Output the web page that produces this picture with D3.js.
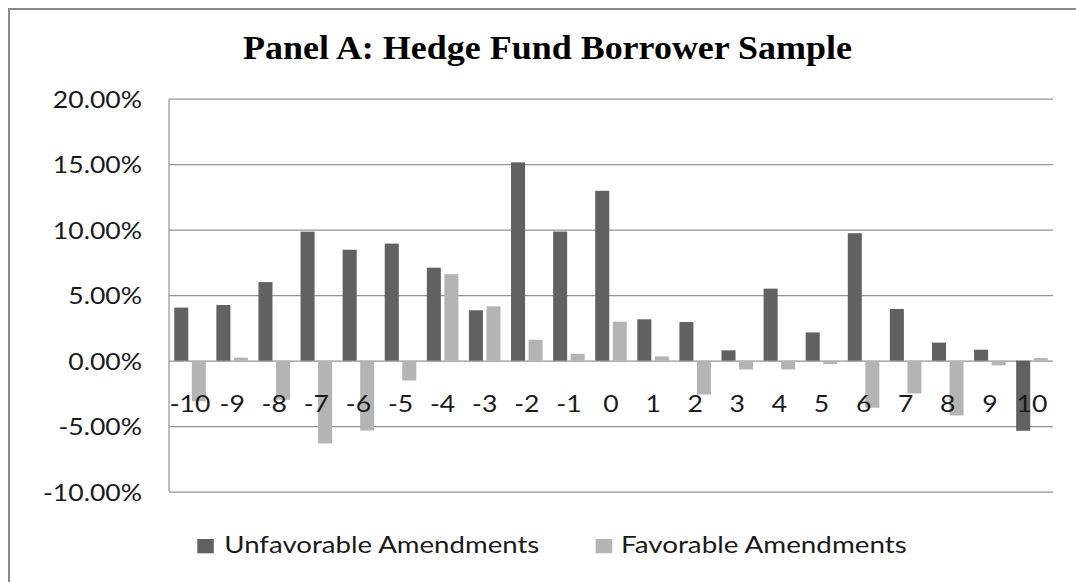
<!DOCTYPE html>
<html>
<head>
<meta charset="utf-8">
<script src="https://cdn.jsdelivr.net/npm/d3@7"></script>
<style>
  html, body { margin: 0; padding: 0; background: #fff; }
  svg { display: block; }
</style>
</head>
<body>
<svg id="chart" width="1076" height="582"></svg>
<script>
// Event-window days around the amendment date
const categories = ["-10","-9","-8","-7","-6","-5","-4","-3","-2","-1","0","1","2","3","4","5","6","7","8","9","10"];

// Mean returns (%) by event day
const unfavorable = [4.05, 4.25, 6.0, 9.85, 8.47, 8.94, 7.1, 3.85, 15.14, 9.86, 12.97, 3.16, 2.95, 0.79, 5.5, 2.16, 9.73, 3.95, 1.38, 0.84, -5.35];
const favorable   = [-3.1, 0.23, -2.98, -6.32, -5.33, -1.51, 6.6, 4.15, 1.6, 0.53, 2.98, 0.33, -2.58, -0.67, -0.67, -0.26, -3.59, -2.5, -4.18, -0.36, 0.2];

const seriesNames = ["Unfavorable Amendments", "Favorable Amendments"];
const seriesColors = ["#616161", "#b4b4b4"];

// Value-axis ticks (%)
const yTicks = [-10, -5, 0, 5, 10, 15, 20];

const title = "Panel A: Hedge Fund Borrower Sample";

const svg = d3.select("#chart");
const W = 1076, H = 582;

// Plot area
const plot = { left: 169, right: 1053, top: 98.7, bottom: 491.7 };

const x0 = d3.scaleBand().domain(categories).range([plot.left, plot.right]).paddingInner(0).paddingOuter(0);
const x1 = d3.scaleBand().domain(seriesNames).range([0, x0.bandwidth()]).paddingInner(0.2).paddingOuter(0.3);
const y = d3.scaleLinear().domain([-10, 20]).range([plot.bottom, plot.top]);

const labelFont = "Lato, 'Open Sans', sans-serif";
const labelSize = 23.3;
const stretch = 1.14;
const pctFmt = d3.formatLocale({ decimal: ".", thousands: ",", grouping: [3], currency: ["", ""], minus: "-" }).format(".2f");

// Outer chart border
svg.append("rect")
  .attr("x", 9).attr("y", 9)
  .attr("width", W + 20).attr("height", H + 20)
  .attr("fill", "none")
  .attr("stroke", "#8a8a8a")
  .attr("stroke-width", 2);

// Title
svg.append("text")
  .attr("x", 547.5).attr("y", 59.3)
  .attr("text-anchor", "middle")
  .attr("font-family", "'Liberation Serif', 'Times New Roman', serif")
  .attr("font-weight", "bold")
  .attr("font-size", 34)
  .attr("textLength", 609)
  .attr("lengthAdjust", "spacingAndGlyphs")
  .attr("fill", "#000")
  .text(title);

// Horizontal gridlines
const grid = svg.append("g")
  .attr("transform", `translate(${plot.left},0)`)
  .call(d3.axisLeft(y).tickValues(yTicks).tickSize(-(plot.right - plot.left)).tickFormat(""));
grid.select(".domain").remove();
grid.selectAll(".tick line").attr("stroke", "#949494").attr("stroke-width", 1.2);

// Vertical value-axis line
svg.append("line")
  .attr("x1", plot.left).attr("x2", plot.left)
  .attr("y1", plot.top).attr("y2", plot.bottom)
  .attr("stroke", "#949494").attr("stroke-width", 1.2);

// Bars
const rows = categories.map((c, i) => ({ cat: c, values: [unfavorable[i], favorable[i]] }));
const groups = svg.append("g").selectAll("g")
  .data(rows).join("g")
  .attr("transform", d => `translate(${x0(d.cat)},0)`);

groups.selectAll("rect")
  .data(d => d.values.map((v, k) => ({ name: seriesNames[k], v, k })))
  .join("rect")
  .attr("x", d => x1(d.name))
  .attr("width", x1.bandwidth())
  .attr("y", d => y(Math.max(0, d.v)))
  .attr("height", d => Math.abs(y(d.v) - y(0)))
  .attr("fill", d => seriesColors[d.k]);

// Value-axis labels
const yAxis = svg.append("g")
  .attr("transform", `translate(${plot.left - 27},0)`)
  .call(d3.axisLeft(y).tickValues(yTicks).tickSize(0).tickPadding(0).tickFormat(d => pctFmt(d) + "%"));
yAxis.select(".domain").remove();
yAxis.selectAll(".tick text")
  .attr("x", 0).attr("dy", "0.36em")
  .attr("transform", `scale(${stretch},1)`)
  .attr("font-family", labelFont)
  .attr("font-size", labelSize)
  .attr("fill", "#1a1a1a");

// Category labels, drawn over the bars
const xAxis = svg.append("g")
  .attr("transform", `translate(0,${y(0)})`)
  .call(d3.axisBottom(x0).tickSize(0).tickPadding(0));
xAxis.select(".domain").remove();
xAxis.selectAll(".tick text")
  .attr("y", 0).attr("dy", null)
  .attr("transform", `translate(0,${411.7 - y(0)}) scale(${stretch},1)`)
  .attr("font-family", labelFont)
  .attr("font-size", labelSize)
  .attr("fill", "#1a1a1a");

// Legend
const legendItems = [
  { name: seriesNames[0], color: seriesColors[0], sx: 197.3, tx: 224.3, tw: 315 },
  { name: seriesNames[1], color: seriesColors[1], sx: 595.7, tx: 621, tw: 285.7 }
];
const legend = svg.append("g");
legendItems.forEach(it => {
  legend.append("rect")
    .attr("x", it.sx).attr("y", 539)
    .attr("width", 16.5).attr("height", 14.3)
    .attr("fill", it.color);
  legend.append("text")
    .attr("x", it.tx).attr("y", 553.3)
    .attr("font-family", labelFont)
    .attr("font-size", labelSize)
    .attr("textLength", it.tw)
    .attr("lengthAdjust", "spacingAndGlyphs")
    .attr("fill", "#1a1a1a")
    .text(it.name);
});
</script>
</body>
</html>
